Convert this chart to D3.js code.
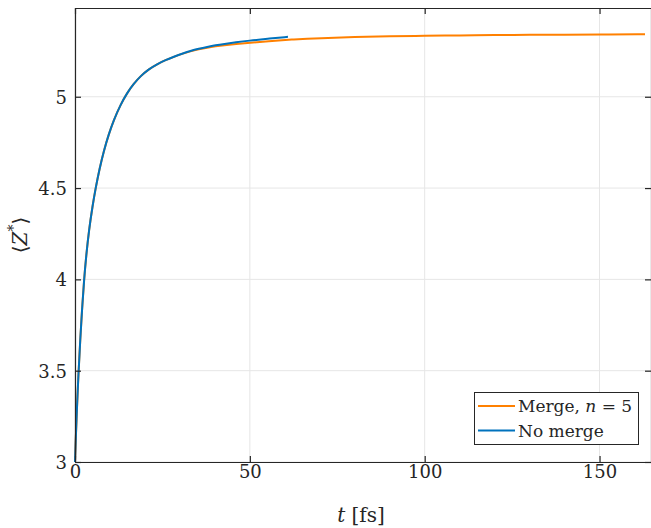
<!DOCTYPE html>
<html>
<head>
<meta charset="utf-8">
<script src="https://cdn.jsdelivr.net/npm/d3@7"></script>
<style>
  body { margin: 0; background: #fff; }
  svg { display: block; }
  text { font-family: "DejaVu Serif", "Liberation Serif", serif; fill: #262626; }
</style>
</head>
<body>
<svg id="chart" width="651" height="528"></svg>
<script>
// ---- data ----
const noMergeT = [0, 0.25, 0.5, 1, 1.5, 2, 2.6, 3.2, 4, 5, 5.9, 7, 8.3, 9.6, 11.1, 13, 14.9, 16.8, 18.8, 21, 23.5, 25.9, 28.3, 30.6, 33, 35.4, 37.8, 40.2, 42.6, 46, 49.7, 55, 60.9];
const noMergeZ = [3, 3.14, 3.27, 3.49, 3.67, 3.83, 4.0, 4.13, 4.27, 4.40, 4.5, 4.605, 4.708, 4.792, 4.873, 4.956, 5.021, 5.072, 5.114, 5.150, 5.179, 5.201, 5.219, 5.236, 5.251, 5.263, 5.273, 5.282, 5.289, 5.298, 5.307, 5.318, 5.328];
const mergeT = [0, 0.25, 0.5, 1, 1.5, 2, 2.6, 3.2, 4, 5, 5.9, 7, 8.3, 9.6, 11.1, 13, 14.9, 16.8, 18.8, 21, 23.5, 25.9, 28.3, 30.6, 33, 35.4, 37.8, 40.2, 42.6, 46, 50, 55, 62.6, 70, 80, 90, 100, 110, 120, 130, 140, 150, 163];
const mergeZ = [3, 3.14, 3.27, 3.49, 3.67, 3.83, 4.0, 4.13, 4.27, 4.40, 4.5, 4.605, 4.708, 4.792, 4.873, 4.956, 5.021, 5.072, 5.114, 5.150, 5.179, 5.201, 5.219, 5.235, 5.249, 5.26, 5.269, 5.276, 5.282, 5.289, 5.296, 5.304, 5.314, 5.321, 5.327, 5.331, 5.334, 5.336, 5.338, 5.339, 5.340, 5.341, 5.342];
const xTicks = [0, 50, 100, 150];
const yTicks = [3, 3.5, 4, 4.5, 5];
const seriesNames = ["Merge, n = 5", "No merge"];
const seriesColors = ["#ff8000", "#0072bd"];

// ---- layout ----
const svg = d3.select("#chart");
const L = 75, R = 652, T = 8, B = 462;
const x = d3.scaleLinear().domain([0, 165]).range([L, R]);
const y = d3.scaleLinear().domain([3, 5.486]).range([B, T]);

// grid
const g = svg.append("g");
g.selectAll(".gx").data(xTicks).join("line")
  .attr("x1", d => x(d)).attr("x2", d => x(d)).attr("y1", T).attr("y2", B)
  .attr("stroke", "#e6e6e6").attr("stroke-width", 1);
g.selectAll(".gy").data(yTicks).join("line")
  .attr("x1", L).attr("x2", R).attr("y1", d => y(d)).attr("y2", d => y(d))
  .attr("stroke", "#e6e6e6").attr("stroke-width", 1);

// lines
const line = d3.line().x(d => x(d[0])).y(d => y(d[1])).curve(d3.curveBasis);
const mergeData = mergeT.map((t, i) => [t, mergeZ[i]]);
const noMergeData = noMergeT.map((t, i) => [t, noMergeZ[i]]);
svg.append("path").datum(mergeData).attr("d", line)
  .attr("fill", "none").attr("stroke", seriesColors[0]).attr("stroke-width", 2);
svg.append("path").datum(noMergeData).attr("d", line)
  .attr("fill", "none").attr("stroke", seriesColors[1]).attr("stroke-width", 2);

// axes (box with inward ticks)
const axisColor = "#262626";
const axB = svg.append("g").attr("transform", `translate(0,${B})`)
  .call(d3.axisBottom(x).tickValues(xTicks).tickSizeInner(-6).tickSizeOuter(0).tickPadding(3).tickFormat(d3.format("d")));
const axL = svg.append("g").attr("transform", `translate(${L},0)`)
  .call(d3.axisLeft(y).tickValues(yTicks).tickSizeInner(-6).tickSizeOuter(0).tickPadding(8).tickFormat(d => String(d)));
const axT = svg.append("g").attr("transform", `translate(0,${T})`)
  .call(d3.axisTop(x).tickValues(xTicks).tickSizeInner(-6).tickSizeOuter(0).tickFormat(""));
const axR = svg.append("g").attr("transform", `translate(${R - 1},0)`)
  .call(d3.axisRight(y).tickValues(yTicks).tickSizeInner(-6).tickSizeOuter(0).tickFormat(""));
[axB, axL, axT, axR].forEach(a => {
  a.attr("font-family", null);
  a.select(".domain").attr("stroke", axisColor).attr("stroke-width", 1.2);
  a.selectAll(".tick line").attr("stroke", axisColor).attr("stroke-width", 1.2);
  a.selectAll("text").attr("font-size", 18).attr("fill", axisColor);
});
axL.selectAll("text").attr("dy", "0.35em");

// x label
const xl = svg.append("text").attr("x", 361).attr("y", 522).attr("text-anchor", "middle").attr("font-size", 20);
xl.append("tspan").attr("font-style", "italic").text("t");
xl.append("tspan").text(" [fs]");

// y label
const yl = svg.append("text").attr("transform", `translate(27,235) rotate(-90)`).attr("text-anchor", "middle").attr("font-size", 20);
yl.append("tspan").text("⟨");
yl.append("tspan").attr("font-style", "italic").text("Z");
yl.append("tspan").attr("font-size", 14).attr("dy", -9).text("*");
yl.append("tspan").attr("dy", 9).text("⟩");

// legend
const lg = svg.append("g");
lg.append("rect").attr("x", 474.5).attr("y", 392.5).attr("width", 164).attr("height", 52)
  .attr("fill", "#fff").attr("stroke", axisColor).attr("stroke-width", 1);
seriesNames.forEach((name, i) => {
  const yy = 406 + i * 24.5;
  lg.append("line").attr("x1", 478).attr("x2", 515).attr("y1", yy).attr("y2", yy)
    .attr("stroke", seriesColors[i]).attr("stroke-width", 2);
  const t = lg.append("text").attr("x", 518).attr("y", yy + 6).attr("font-size", 17);
  if (i === 0) {
    t.append("tspan").text("Merge, ");
    t.append("tspan").attr("font-style", "italic").text("n");
    t.append("tspan").text(" = 5");
  } else {
    t.text(name);
  }
});
</script>
</body>
</html>
